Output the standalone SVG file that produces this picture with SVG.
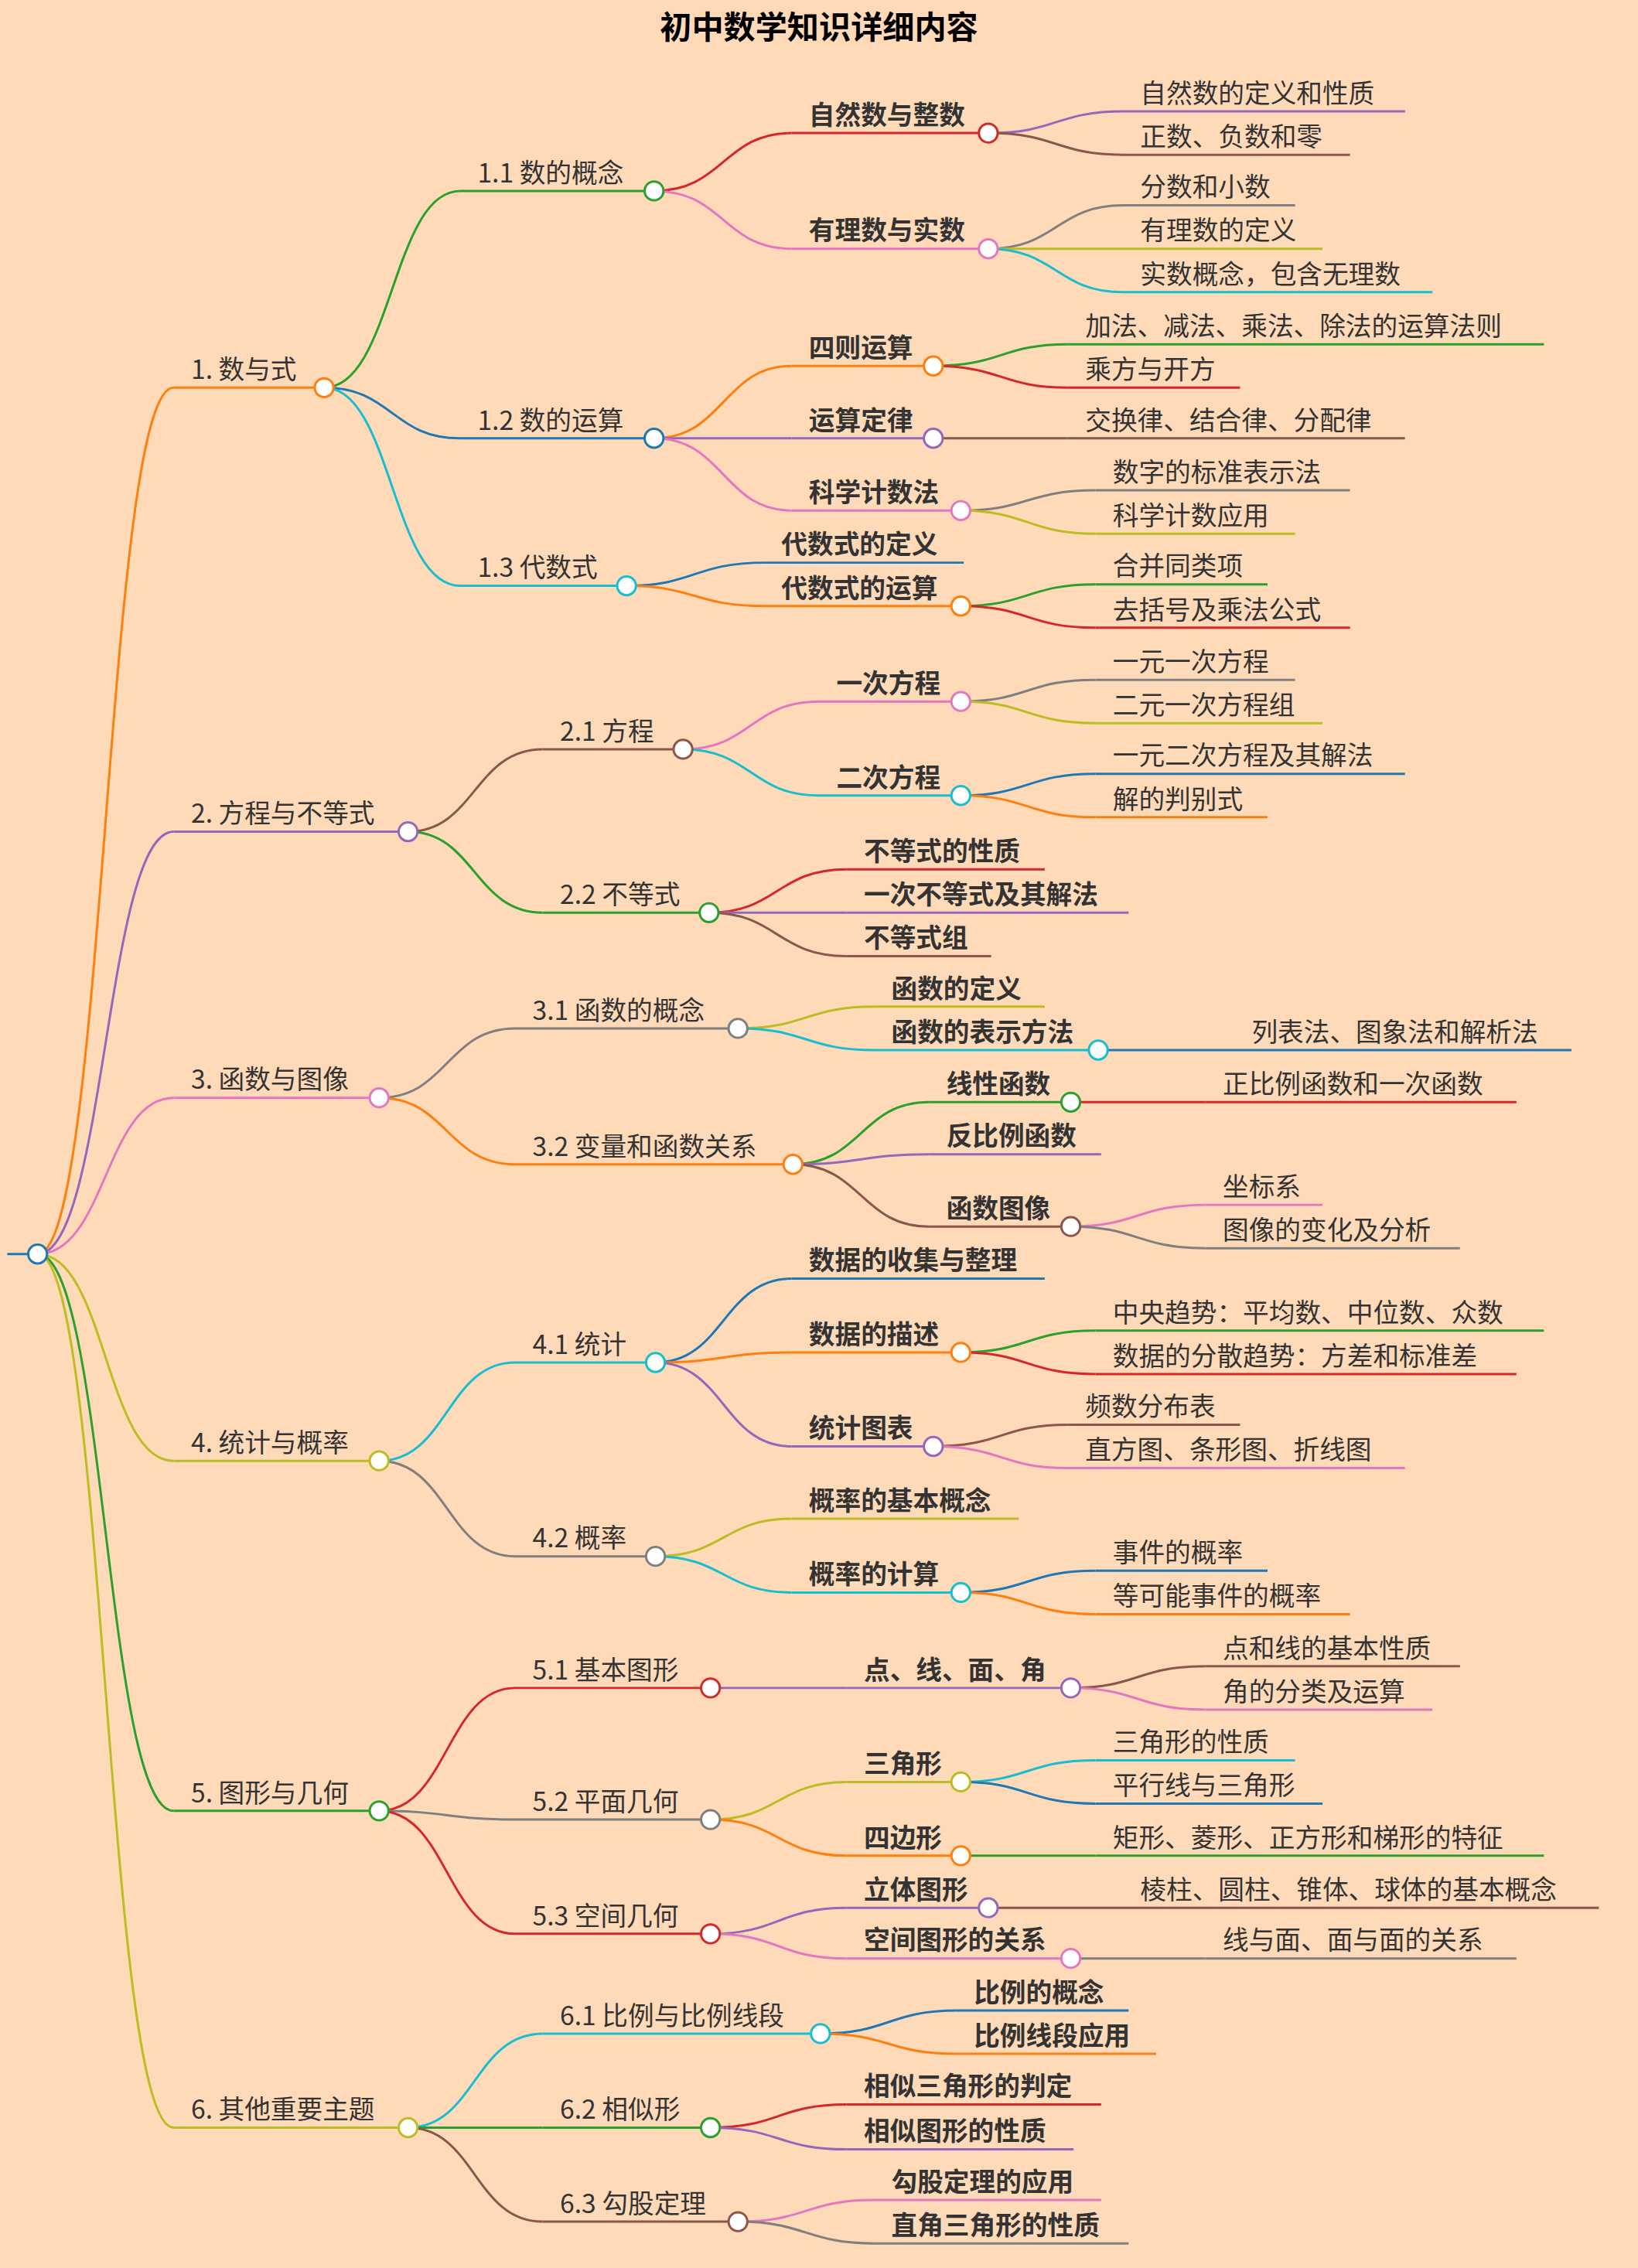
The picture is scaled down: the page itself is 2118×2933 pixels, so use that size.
<svg xmlns="http://www.w3.org/2000/svg" width="2118" height="2933" viewBox="0 0 2118 2933">
<style>
text{font-family:"Noto Sans CJK SC","Noto Sans",sans-serif;font-size:18px;fill:#333}
.b{font-weight:bold}
.t{font-weight:bold;font-size:22px;fill:#000}
path,line{fill:none;stroke-width:1.6}
circle{fill:#fff;stroke-width:1.6}
.bl{stroke:#1f77b4}.or{stroke:#ff7f0e}.gr{stroke:#2ca02c}.rd{stroke:#d62728}.pu{stroke:#9467bd}
.br{stroke:#8c564b}.pk{stroke:#e377c2}.gy{stroke:#7f7f7f}.ol{stroke:#bcbd22}.cy{stroke:#17becf}
</style>
<rect width="2118" height="2933" fill="#ffdab9"/>
<g transform="scale(1.871,1.8705)">
<text class="t" x="566" y="27" text-anchor="middle">初中数学知识详细内容</text>
<g id="connectors">
<path class="or" d="M26 867C73 867 73 268 120 268"/>
<path class="pu" d="M26 867C73 867 73 575 120 575"/>
<path class="pk" d="M26 867C73 867 73 759 120 759"/>
<path class="ol" d="M26 867C73 867 73 1010 120 1010"/>
<path class="gr" d="M26 867C73 867 73 1252 120 1252"/>
<path class="ol" d="M26 867C73 867 73 1471 120 1471"/>
<path class="gr" d="M224 268C271 268 271 132 318 132"/>
<path class="bl" d="M224 268C271 268 271 303 318 303"/>
<path class="cy" d="M224 268C271 268 271 405 318 405"/>
<path class="br" d="M282 575C328 575 328 518 375 518"/>
<path class="gr" d="M282 575C328 575 328 631 375 631"/>
<path class="gy" d="M262 759C309 759 309 711 356 711"/>
<path class="or" d="M262 759C309 759 309 805 356 805"/>
<path class="cy" d="M262 1010C309 1010 309 942 356 942"/>
<path class="gy" d="M262 1010C309 1010 309 1076 356 1076"/>
<path class="rd" d="M262 1252C309 1252 309 1167 356 1167"/>
<path class="gy" d="M262 1252C309 1252 309 1258 356 1258"/>
<path class="rd" d="M262 1252C309 1252 309 1337 356 1337"/>
<path class="cy" d="M282 1471C328 1471 328 1406 375 1406"/>
<path class="gr" d="M282 1471C328 1471 328 1471 375 1471"/>
<path class="br" d="M282 1471C328 1471 328 1536 375 1536"/>
<path class="rd" d="M452 132C500 132 500 92 547 92"/>
<path class="pk" d="M452 132C500 132 500 172 547 172"/>
<path class="or" d="M452 303C500 303 500 253 547 253"/>
<path class="pu" d="M452 303C500 303 500 303 547 303"/>
<path class="pk" d="M452 303C500 303 500 353 547 353"/>
<path class="bl" d="M433 405C480 405 480 389 528 389"/>
<path class="or" d="M433 405C480 405 480 419 528 419"/>
<path class="pk" d="M472 518C519 518 519 485 566 485"/>
<path class="cy" d="M472 518C519 518 519 550 566 550"/>
<path class="rd" d="M490 631C537 631 537 601 585 601"/>
<path class="pu" d="M490 631C537 631 537 631 585 631"/>
<path class="br" d="M490 631C537 631 537 661 585 661"/>
<path class="ol" d="M510 711C557 711 557 696 604 696"/>
<path class="cy" d="M510 711C557 711 557 726 604 726"/>
<path class="gr" d="M548 805C595 805 595 762 642 762"/>
<path class="pu" d="M548 805C595 805 595 798 642 798"/>
<path class="br" d="M548 805C595 805 595 848 642 848"/>
<path class="bl" d="M453 942C500 942 500 884 547 884"/>
<path class="or" d="M453 942C500 942 500 935 547 935"/>
<path class="pu" d="M453 942C500 942 500 1000 547 1000"/>
<path class="ol" d="M453 1076C500 1076 500 1050 547 1050"/>
<path class="cy" d="M453 1076C500 1076 500 1101 547 1101"/>
<path class="pu" d="M491 1167L585 1167"/>
<path class="ol" d="M491 1258C538 1258 538 1232 585 1232"/>
<path class="or" d="M491 1258C538 1258 538 1283 585 1283"/>
<path class="pu" d="M491 1337C538 1337 538 1319 585 1319"/>
<path class="pk" d="M491 1337C538 1337 538 1354 585 1354"/>
<path class="bl" d="M567 1406C614 1406 614 1390 661 1390"/>
<path class="or" d="M567 1406C614 1406 614 1420 661 1420"/>
<path class="rd" d="M491 1471C538 1471 538 1455 585 1455"/>
<path class="pu" d="M491 1471C538 1471 538 1486 585 1486"/>
<path class="pk" d="M510 1536C557 1536 557 1521 604 1521"/>
<path class="gy" d="M510 1536C557 1536 557 1551 604 1551"/>
<path class="pu" d="M683 92C730 92 730 77 776 77"/>
<path class="br" d="M683 92C730 92 730 107 776 107"/>
<path class="gy" d="M683 172C730 172 730 142 776 142"/>
<path class="ol" d="M683 172L776 172"/>
<path class="cy" d="M683 172C730 172 730 202 776 202"/>
<path class="gr" d="M645 253C692 253 692 238 738 238"/>
<path class="rd" d="M645 253C692 253 692 268 738 268"/>
<path class="br" d="M645 303L738 303"/>
<path class="gy" d="M664 353C710 353 710 339 757 339"/>
<path class="ol" d="M664 353C710 353 710 369 757 369"/>
<path class="gr" d="M664 419C710 419 710 404 757 404"/>
<path class="rd" d="M664 419C710 419 710 434 757 434"/>
<path class="gy" d="M664 485C710 485 710 470 757 470"/>
<path class="ol" d="M664 485C710 485 710 500 757 500"/>
<path class="bl" d="M664 550C710 550 710 535 757 535"/>
<path class="or" d="M664 550C710 550 710 565 757 565"/>
<path class="bl" d="M759 726L853 726"/>
<path class="rd" d="M740 762L833 762"/>
<path class="pk" d="M740 848C786 848 786 833 833 833"/>
<path class="gy" d="M740 848C786 848 786 863 833 863"/>
<path class="gr" d="M664 935C710 935 710 920 757 920"/>
<path class="rd" d="M664 935C710 935 710 950 757 950"/>
<path class="br" d="M645 1000C692 1000 692 985 738 985"/>
<path class="pk" d="M645 1000C692 1000 692 1015 738 1015"/>
<path class="bl" d="M664 1101C710 1101 710 1086 757 1086"/>
<path class="or" d="M664 1101C710 1101 710 1116 757 1116"/>
<path class="br" d="M740 1167C786 1167 786 1152 833 1152"/>
<path class="pk" d="M740 1167C786 1167 786 1182 833 1182"/>
<path class="cy" d="M664 1232C710 1232 710 1217 757 1217"/>
<path class="bl" d="M664 1232C710 1232 710 1247 757 1247"/>
<path class="gr" d="M664 1283L757 1283"/>
<path class="br" d="M683 1319L776 1319"/>
<path class="gy" d="M740 1354L833 1354"/>
<path class="bl" d="M5 867L26 867"/>
</g>
<g id="root"><circle class="bl" cx="26" cy="867" r="6.5"/></g>
<g id="n1"><line class="or" x1="120" y1="268" x2="224" y2="268"/><text x="132" y="262">1. 数与式</text><circle class="or" cx="224" cy="268" r="6.5"/></g>
<g id="n2"><line class="pu" x1="120" y1="575" x2="282" y2="575"/><text x="132" y="569">2. 方程与不等式</text><circle class="pu" cx="282" cy="575" r="6.5"/></g>
<g id="n3"><line class="pk" x1="120" y1="759" x2="262" y2="759"/><text x="132" y="753">3. 函数与图像</text><circle class="pk" cx="262" cy="759" r="6.5"/></g>
<g id="n4"><line class="ol" x1="120" y1="1010" x2="262" y2="1010"/><text x="132" y="1004">4. 统计与概率</text><circle class="ol" cx="262" cy="1010" r="6.5"/></g>
<g id="n5"><line class="gr" x1="120" y1="1252" x2="262" y2="1252"/><text x="132" y="1246">5. 图形与几何</text><circle class="gr" cx="262" cy="1252" r="6.5"/></g>
<g id="n6"><line class="ol" x1="120" y1="1471" x2="282" y2="1471"/><text x="132" y="1465">6. 其他重要主题</text><circle class="ol" cx="282" cy="1471" r="6.5"/></g>
<g id="n11"><line class="gr" x1="318" y1="132" x2="452" y2="132"/><text x="330" y="126">1.1 数的概念</text><circle class="gr" cx="452" cy="132" r="6.5"/></g>
<g id="n12"><line class="bl" x1="318" y1="303" x2="452" y2="303"/><text x="330" y="297">1.2 数的运算</text><circle class="bl" cx="452" cy="303" r="6.5"/></g>
<g id="n13"><line class="cy" x1="318" y1="405" x2="433" y2="405"/><text x="330" y="399">1.3 代数式</text><circle class="cy" cx="433" cy="405" r="6.5"/></g>
<g id="n21"><line class="br" x1="375" y1="518" x2="472" y2="518"/><text x="387" y="512">2.1 方程</text><circle class="br" cx="472" cy="518" r="6.5"/></g>
<g id="n22"><line class="gr" x1="375" y1="631" x2="490" y2="631"/><text x="387" y="625">2.2 不等式</text><circle class="gr" cx="490" cy="631" r="6.5"/></g>
<g id="n31"><line class="gy" x1="356" y1="711" x2="510" y2="711"/><text x="368" y="705">3.1 函数的概念</text><circle class="gy" cx="510" cy="711" r="6.5"/></g>
<g id="n32"><line class="or" x1="356" y1="805" x2="548" y2="805"/><text x="368" y="799">3.2 变量和函数关系</text><circle class="or" cx="548" cy="805" r="6.5"/></g>
<g id="n41"><line class="cy" x1="356" y1="942" x2="453" y2="942"/><text x="368" y="936">4.1 统计</text><circle class="cy" cx="453" cy="942" r="6.5"/></g>
<g id="n42"><line class="gy" x1="356" y1="1076" x2="453" y2="1076"/><text x="368" y="1070">4.2 概率</text><circle class="gy" cx="453" cy="1076" r="6.5"/></g>
<g id="n51"><line class="rd" x1="356" y1="1167" x2="491" y2="1167"/><text x="368" y="1161">5.1 基本图形</text><circle class="rd" cx="491" cy="1167" r="6.5"/></g>
<g id="n52"><line class="gy" x1="356" y1="1258" x2="491" y2="1258"/><text x="368" y="1252">5.2 平面几何</text><circle class="gy" cx="491" cy="1258" r="6.5"/></g>
<g id="n53"><line class="rd" x1="356" y1="1337" x2="491" y2="1337"/><text x="368" y="1331">5.3 空间几何</text><circle class="rd" cx="491" cy="1337" r="6.5"/></g>
<g id="n61"><line class="cy" x1="375" y1="1406" x2="567" y2="1406"/><text x="387" y="1400">6.1 比例与比例线段</text><circle class="cy" cx="567" cy="1406" r="6.5"/></g>
<g id="n62"><line class="gr" x1="375" y1="1471" x2="491" y2="1471"/><text x="387" y="1465">6.2 相似形</text><circle class="gr" cx="491" cy="1471" r="6.5"/></g>
<g id="n63"><line class="br" x1="375" y1="1536" x2="510" y2="1536"/><text x="387" y="1530">6.3 勾股定理</text><circle class="br" cx="510" cy="1536" r="6.5"/></g>
<g id="n111"><line class="rd" x1="547" y1="92" x2="683" y2="92"/><text class="b" x="559" y="86">自然数与整数</text><circle class="rd" cx="683" cy="92" r="6.5"/></g>
<g id="n112"><line class="pk" x1="547" y1="172" x2="683" y2="172"/><text class="b" x="559" y="166">有理数与实数</text><circle class="pk" cx="683" cy="172" r="6.5"/></g>
<g id="n121"><line class="or" x1="547" y1="253" x2="645" y2="253"/><text class="b" x="559" y="247">四则运算</text><circle class="or" cx="645" cy="253" r="6.5"/></g>
<g id="n122"><line class="pu" x1="547" y1="303" x2="645" y2="303"/><text class="b" x="559" y="297">运算定律</text><circle class="pu" cx="645" cy="303" r="6.5"/></g>
<g id="n123"><line class="pk" x1="547" y1="353" x2="664" y2="353"/><text class="b" x="559" y="347">科学计数法</text><circle class="pk" cx="664" cy="353" r="6.5"/></g>
<g id="n131"><line class="bl" x1="528" y1="389" x2="666" y2="389"/><text class="b" x="540" y="383">代数式的定义</text></g>
<g id="n132"><line class="or" x1="528" y1="419" x2="664" y2="419"/><text class="b" x="540" y="413">代数式的运算</text><circle class="or" cx="664" cy="419" r="6.5"/></g>
<g id="n211"><line class="pk" x1="566" y1="485" x2="664" y2="485"/><text class="b" x="578" y="479">一次方程</text><circle class="pk" cx="664" cy="485" r="6.5"/></g>
<g id="n212"><line class="cy" x1="566" y1="550" x2="664" y2="550"/><text class="b" x="578" y="544">二次方程</text><circle class="cy" cx="664" cy="550" r="6.5"/></g>
<g id="n221"><line class="rd" x1="585" y1="601" x2="722" y2="601"/><text class="b" x="597" y="595">不等式的性质</text></g>
<g id="n222"><line class="pu" x1="585" y1="631" x2="780" y2="631"/><text class="b" x="597" y="625">一次不等式及其解法</text></g>
<g id="n223"><line class="br" x1="585" y1="661" x2="685" y2="661"/><text class="b" x="597" y="655">不等式组</text></g>
<g id="n311"><line class="ol" x1="604" y1="696" x2="722" y2="696"/><text class="b" x="616" y="690">函数的定义</text></g>
<g id="n312"><line class="cy" x1="604" y1="726" x2="759" y2="726"/><text class="b" x="616" y="720">函数的表示方法</text><circle class="cy" cx="759" cy="726" r="6.5"/></g>
<g id="n321"><line class="gr" x1="642" y1="762" x2="740" y2="762"/><text class="b" x="654" y="756">线性函数</text><circle class="gr" cx="740" cy="762" r="6.5"/></g>
<g id="n322"><line class="pu" x1="642" y1="798" x2="761" y2="798"/><text class="b" x="654" y="792">反比例函数</text></g>
<g id="n323"><line class="br" x1="642" y1="848" x2="740" y2="848"/><text class="b" x="654" y="842">函数图像</text><circle class="br" cx="740" cy="848" r="6.5"/></g>
<g id="n411"><line class="bl" x1="547" y1="884" x2="722" y2="884"/><text class="b" x="559" y="878">数据的收集与整理</text></g>
<g id="n412"><line class="or" x1="547" y1="935" x2="664" y2="935"/><text class="b" x="559" y="929">数据的描述</text><circle class="or" cx="664" cy="935" r="6.5"/></g>
<g id="n413"><line class="pu" x1="547" y1="1000" x2="645" y2="1000"/><text class="b" x="559" y="994">统计图表</text><circle class="pu" cx="645" cy="1000" r="6.5"/></g>
<g id="n421"><line class="ol" x1="547" y1="1050" x2="704" y2="1050"/><text class="b" x="559" y="1044">概率的基本概念</text></g>
<g id="n422"><line class="cy" x1="547" y1="1101" x2="664" y2="1101"/><text class="b" x="559" y="1095">概率的计算</text><circle class="cy" cx="664" cy="1101" r="6.5"/></g>
<g id="n511"><line class="pu" x1="585" y1="1167" x2="740" y2="1167"/><text class="b" x="597" y="1161">点、线、面、角</text><circle class="pu" cx="740" cy="1167" r="6.5"/></g>
<g id="n521"><line class="ol" x1="585" y1="1232" x2="664" y2="1232"/><text class="b" x="597" y="1226">三角形</text><circle class="ol" cx="664" cy="1232" r="6.5"/></g>
<g id="n522"><line class="or" x1="585" y1="1283" x2="664" y2="1283"/><text class="b" x="597" y="1277">四边形</text><circle class="or" cx="664" cy="1283" r="6.5"/></g>
<g id="n531"><line class="pu" x1="585" y1="1319" x2="683" y2="1319"/><text class="b" x="597" y="1313">立体图形</text><circle class="pu" cx="683" cy="1319" r="6.5"/></g>
<g id="n532"><line class="pk" x1="585" y1="1354" x2="740" y2="1354"/><text class="b" x="597" y="1348">空间图形的关系</text><circle class="pk" cx="740" cy="1354" r="6.5"/></g>
<g id="n611"><line class="bl" x1="661" y1="1390" x2="780" y2="1390"/><text class="b" x="673" y="1384">比例的概念</text></g>
<g id="n612"><line class="or" x1="661" y1="1420" x2="799" y2="1420"/><text class="b" x="673" y="1414">比例线段应用</text></g>
<g id="n621"><line class="rd" x1="585" y1="1455" x2="761" y2="1455"/><text class="b" x="597" y="1449">相似三角形的判定</text></g>
<g id="n622"><line class="pu" x1="585" y1="1486" x2="742" y2="1486"/><text class="b" x="597" y="1480">相似图形的性质</text></g>
<g id="n631"><line class="pk" x1="604" y1="1521" x2="761" y2="1521"/><text class="b" x="616" y="1515">勾股定理的应用</text></g>
<g id="n632"><line class="gy" x1="604" y1="1551" x2="780" y2="1551"/><text class="b" x="616" y="1545">直角三角形的性质</text></g>
<g id="l1"><line class="pu" x1="776" y1="77" x2="971" y2="77"/><text x="788" y="71">自然数的定义和性质</text></g>
<g id="l2"><line class="br" x1="776" y1="107" x2="933" y2="107"/><text x="788" y="101">正数、负数和零</text></g>
<g id="l3"><line class="gy" x1="776" y1="142" x2="895" y2="142"/><text x="788" y="136">分数和小数</text></g>
<g id="l4"><line class="ol" x1="776" y1="172" x2="914" y2="172"/><text x="788" y="166">有理数的定义</text></g>
<g id="l5"><line class="cy" x1="776" y1="202" x2="990" y2="202"/><text x="788" y="196">实数概念，包含无理数</text></g>
<g id="l6"><line class="gr" x1="738" y1="238" x2="1067" y2="238"/><text x="750" y="232">加法、减法、乘法、除法的运算法则</text></g>
<g id="l7"><line class="rd" x1="738" y1="268" x2="857" y2="268"/><text x="750" y="262">乘方与开方</text></g>
<g id="l8"><line class="br" x1="738" y1="303" x2="971" y2="303"/><text x="750" y="297">交换律、结合律、分配律</text></g>
<g id="l9"><line class="gy" x1="757" y1="339" x2="933" y2="339"/><text x="769" y="333">数字的标准表示法</text></g>
<g id="l10"><line class="ol" x1="757" y1="369" x2="895" y2="369"/><text x="769" y="363">科学计数应用</text></g>
<g id="l11"><line class="gr" x1="757" y1="404" x2="876" y2="404"/><text x="769" y="398">合并同类项</text></g>
<g id="l12"><line class="rd" x1="757" y1="434" x2="933" y2="434"/><text x="769" y="428">去括号及乘法公式</text></g>
<g id="l13"><line class="gy" x1="757" y1="470" x2="895" y2="470"/><text x="769" y="464">一元一次方程</text></g>
<g id="l14"><line class="ol" x1="757" y1="500" x2="914" y2="500"/><text x="769" y="494">二元一次方程组</text></g>
<g id="l15"><line class="bl" x1="757" y1="535" x2="971" y2="535"/><text x="769" y="529">一元二次方程及其解法</text></g>
<g id="l16"><line class="or" x1="757" y1="565" x2="876" y2="565"/><text x="769" y="559">解的判别式</text></g>
<g id="l17"><line class="bl" x1="853" y1="726" x2="1086" y2="726"/><text x="865" y="720">列表法、图象法和解析法</text></g>
<g id="l18"><line class="rd" x1="833" y1="762" x2="1048" y2="762"/><text x="845" y="756">正比例函数和一次函数</text></g>
<g id="l19"><line class="pk" x1="833" y1="833" x2="914" y2="833"/><text x="845" y="827">坐标系</text></g>
<g id="l20"><line class="gy" x1="833" y1="863" x2="1009" y2="863"/><text x="845" y="857">图像的变化及分析</text></g>
<g id="l21"><line class="gr" x1="757" y1="920" x2="1067" y2="920"/><text x="769" y="914">中央趋势：平均数、中位数、众数</text></g>
<g id="l22"><line class="rd" x1="757" y1="950" x2="1048" y2="950"/><text x="769" y="944">数据的分散趋势：方差和标准差</text></g>
<g id="l23"><line class="br" x1="738" y1="985" x2="857" y2="985"/><text x="750" y="979">频数分布表</text></g>
<g id="l24"><line class="pk" x1="738" y1="1015" x2="971" y2="1015"/><text x="750" y="1009">直方图、条形图、折线图</text></g>
<g id="l25"><line class="bl" x1="757" y1="1086" x2="876" y2="1086"/><text x="769" y="1080">事件的概率</text></g>
<g id="l26"><line class="or" x1="757" y1="1116" x2="933" y2="1116"/><text x="769" y="1110">等可能事件的概率</text></g>
<g id="l27"><line class="br" x1="833" y1="1152" x2="1009" y2="1152"/><text x="845" y="1146">点和线的基本性质</text></g>
<g id="l28"><line class="pk" x1="833" y1="1182" x2="990" y2="1182"/><text x="845" y="1176">角的分类及运算</text></g>
<g id="l29"><line class="cy" x1="757" y1="1217" x2="895" y2="1217"/><text x="769" y="1211">三角形的性质</text></g>
<g id="l30"><line class="bl" x1="757" y1="1247" x2="914" y2="1247"/><text x="769" y="1241">平行线与三角形</text></g>
<g id="l31"><line class="gr" x1="757" y1="1283" x2="1067" y2="1283"/><text x="769" y="1277">矩形、菱形、正方形和梯形的特征</text></g>
<g id="l32"><line class="br" x1="776" y1="1319" x2="1105" y2="1319"/><text x="788" y="1313">棱柱、圆柱、锥体、球体的基本概念</text></g>
<g id="l33"><line class="gy" x1="833" y1="1354" x2="1048" y2="1354"/><text x="845" y="1348">线与面、面与面的关系</text></g>
</g>
</svg>
